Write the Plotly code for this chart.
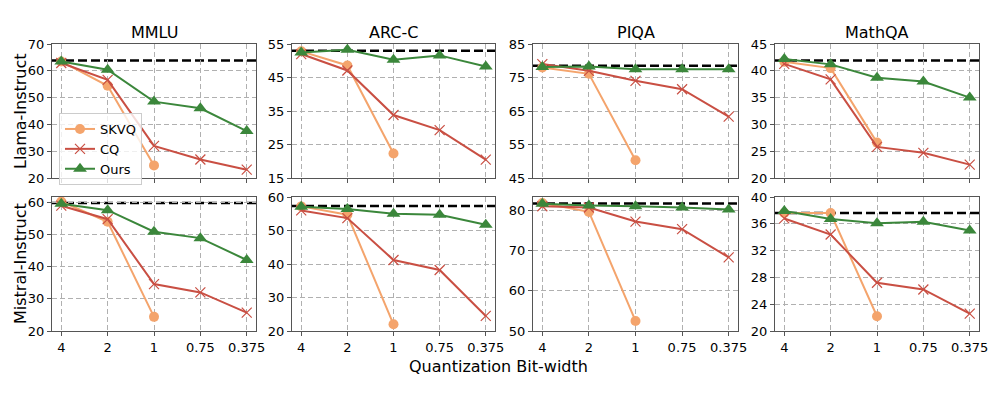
import plotly.graph_objects as go

# x categories (quantization bit-width)
bits = ["4", "2", "1", "0.75", "0.375"]
tasks = ["MMLU", "ARC-C", "PIQA", "MathQA"]
models = ["Llama-Instruct", "Mistral-Instruct"]

# Llama-Instruct
llama_full = [63.8, 53.0, 78.5, 41.9]
llama_skvq = [
    [63.5, 54.4, 24.7, None, None],
    [52.8, 48.6, 22.3, None, None],
    [78.0, 76.1, 50.3, None, None],
    [41.7, 40.5, 26.6, None, None],
]
llama_cq = [
    [62.9, 56.6, 32.0, 26.9, 23.1],
    [52.0, 47.1, 33.8, 29.3, 20.5],
    [79.0, 77.0, 74.0, 71.5, 63.3],
    [41.3, 38.4, 25.8, 24.7, 22.5],
]
llama_ours = [
    [63.5, 60.4, 48.5, 46.0, 37.5],
    [52.5, 53.3, 50.3, 51.6, 48.3],
    [78.1, 78.3, 77.5, 77.5, 77.5],
    [42.2, 41.2, 38.7, 38.0, 35.0],
]

# Mistral-Instruct
mistral_full = [59.8, 57.3, 81.7, 37.6]
mistral_skvq = [
    [60.3, 54.0, 24.4, None, None],
    [57.2, 54.7, 22.0, None, None],
    [81.8, 79.6, 52.5, None, None],
    [37.6, 37.6, 22.2, None, None],
]
mistral_cq = [
    [59.0, 54.8, 34.6, 32.0, 25.7],
    [56.0, 53.7, 41.2, 38.2, 24.5],
    [81.0, 80.7, 77.2, 75.3, 68.3],
    [36.8, 34.4, 27.2, 26.2, 22.6],
]
mistral_ours = [
    [59.6, 57.6, 50.9, 48.9, 42.1],
    [57.1, 56.4, 55.0, 54.7, 51.7],
    [81.6, 81.2, 81.0, 80.7, 80.2],
    [37.9, 36.7, 36.1, 36.3, 35.0],
]

# axis ranges / ticks per panel
y_ranges = [
    [[20, 70], [15, 55], [45, 85], [20, 45]],
    [[20, 61.7], [20, 60], [50, 83.3], [20, 40]],
]
y_dticks = [[10, 10, 10, 5], [10, 10, 10, 4]]
y_tick0 = [[0, 5, 5, 0], [0, 0, 0, 0]]

W, H = 997, 399
col_px = [(52, 256), (292, 495), (533, 738), (775, 979)]
row_px = [(44, 178), (197, 331)]

SKVQ_C = "#f4a46c"
CQ_C = "#c94f43"
OURS_C = "#3b873b"
FONT = "DejaVu Sans"

fig = go.Figure()
layout = {}

data = [
    (llama_full, llama_skvq, llama_cq, llama_ours),
    (mistral_full, mistral_skvq, mistral_cq, mistral_ours),
]

for r in range(2):
    full, skvq, cq, ours = data[r]
    for c in range(4):
        idx = r * 4 + c + 1
        xa = "x" if idx == 1 else f"x{idx}"
        ya = "y" if idx == 1 else f"y{idx}"
        first = idx == 1

        fig.add_trace(go.Scatter(
            x=bits, y=skvq[c], xaxis=xa, yaxis=ya, name="SKVQ",
            mode="lines+markers", showlegend=first, legendrank=1,
            line=dict(color=SKVQ_C, width=2),
            marker=dict(symbol="circle", size=10, color=SKVQ_C),
        ))
        fig.add_trace(go.Scatter(
            x=bits, y=cq[c], xaxis=xa, yaxis=ya, name="CQ",
            mode="lines+markers", showlegend=first, legendrank=2,
            line=dict(color=CQ_C, width=2),
            marker=dict(symbol="x-thin", size=10,
                        line=dict(color=CQ_C, width=1.2)),
        ))
        fig.add_trace(go.Scatter(
            x=bits, y=ours[c], xaxis=xa, yaxis=ya, name="Ours",
            mode="lines+markers", showlegend=first, legendrank=3,
            line=dict(color=OURS_C, width=2),
            marker=dict(symbol="triangle-up", size=12, color=OURS_C),
        ))

        # full-precision baseline
        fig.add_shape(
            type="line", xref=f"{xa} domain", yref=ya,
            x0=0, x1=1, y0=full[c], y1=full[c],
            line=dict(color="black", width=2.5, dash="9px,4px"),
            layer="below",
        )

        x0, x1 = col_px[c]
        y0, y1 = row_px[r]
        common = dict(
            showline=True, mirror=True, linecolor="#555", linewidth=1,
            ticks="outside", ticklen=4, tickcolor="#555",
            showgrid=True, gridcolor="#b0b0b0", griddash="5px,3px",
            gridwidth=1, zeroline=False, automargin=False,
            tickfont=dict(family=FONT, size=13, color="black"),
        )
        layout["xaxis" if idx == 1 else f"xaxis{idx}"] = dict(
            common, domain=[x0 / W, x1 / W], anchor=ya,
            type="category", range=[-0.2, 4.2],
            showticklabels=(r == 1),
        )
        layout["yaxis" if idx == 1 else f"yaxis{idx}"] = dict(
            common, domain=[1 - y1 / H, 1 - y0 / H], anchor=xa,
            range=y_ranges[r][c], dtick=y_dticks[r][c],
            tick0=y_tick0[r][c],
        )

annotations = []
for c, t in enumerate(tasks):
    annotations.append(dict(
        text=t, x=(col_px[c][0] + col_px[c][1]) / 2 / W, y=1 - 33 / H,
        xref="paper", yref="paper", showarrow=False,
        xanchor="center", yanchor="middle",
        font=dict(family=FONT, size=16, color="black"),
    ))
for r, m in enumerate(models):
    annotations.append(dict(
        text=m, x=20 / W, y=1 - (row_px[r][0] + row_px[r][1]) / 2 / H,
        xref="paper", yref="paper", showarrow=False, textangle=-90,
        xanchor="center", yanchor="middle",
        font=dict(family=FONT, size=16, color="black"),
    ))
annotations.append(dict(
    text="Quantization Bit-width", x=0.5, y=1 - 366 / H,
    xref="paper", yref="paper", showarrow=False,
    xanchor="center", yanchor="middle",
    font=dict(family=FONT, size=16, color="black"),
))

fig.update_layout(
    **layout,
    annotations=annotations,
    width=W, height=H,
    margin=dict(l=0, r=0, t=0, b=0),
    paper_bgcolor="white", plot_bgcolor="white",
    font=dict(family=FONT, size=13, color="black"),
    legend=dict(
        x=59 / W, y=1 - 113 / H, xanchor="left", yanchor="top",
        bgcolor="rgba(255,255,255,0.8)", bordercolor="#cccccc",
        borderwidth=1, font=dict(family=FONT, size=13),
        tracegroupgap=0, itemwidth=30,
    ),
)

# drop the default page margin so the figure sits at the window's corner
fig.write_html(
    "out.html",
    config={"displayModeBar": False},
    post_script="document.body.style.margin='0';document.body.style.overflow='hidden';",
)
